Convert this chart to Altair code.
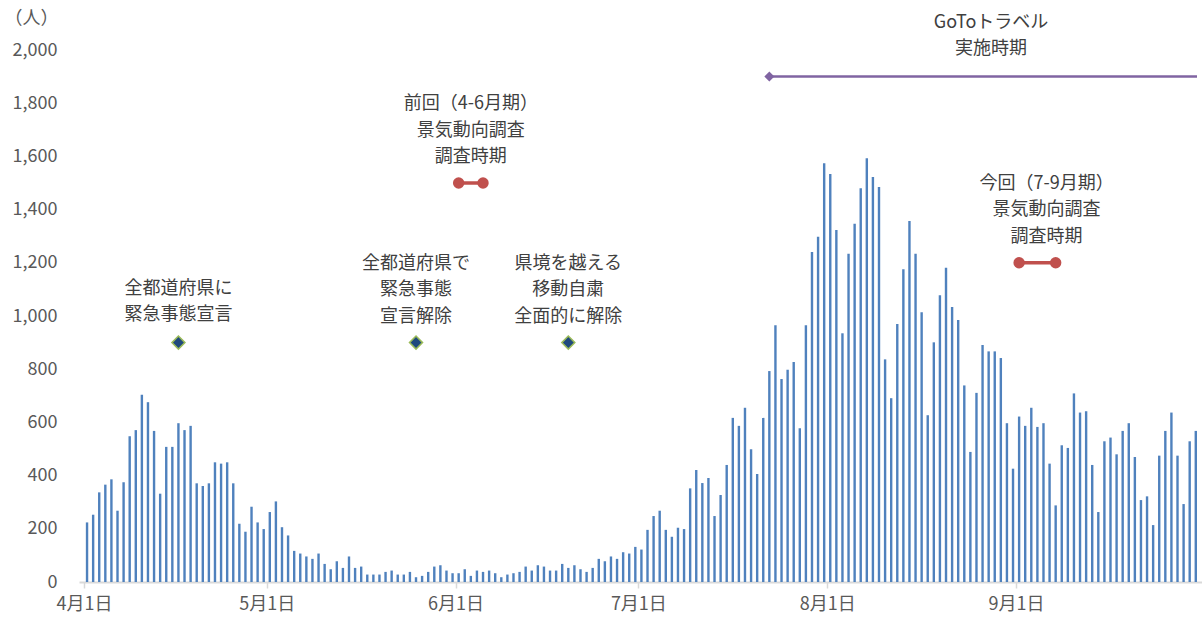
import altair as alt
import pandas as pd

# Daily new cases (Apr 1 - Sep 30)
april = [224, 253, 337, 366, 386, 268, 375, 548, 571, 704, 676, 568, 332, 508, 508,
         597, 571, 587, 371, 361, 371, 450, 445, 450, 371, 219, 189, 283, 224, 199]
may = [263, 303, 206, 175, 117, 107, 96, 87, 107, 68, 48, 78, 53, 96, 53, 58, 28, 28,
       28, 38, 43, 28, 28, 38, 18, 23, 38, 58, 63, 43, 33]
june = [33, 48, 23, 43, 38, 43, 33, 18, 28, 33, 38, 58, 43, 63, 58, 43, 43, 68, 53, 63,
        48, 38, 53, 87, 78, 96, 87, 112, 107, 132]
july = [122, 196, 248, 268, 196, 170, 204, 199, 352, 421, 372, 391, 248, 327, 440, 617,
        587, 655, 499, 406, 617, 793, 965, 763, 798, 827, 578, 965, 1241, 1298, 1574]
august = [1534, 1323, 935, 1234, 1347, 1480, 1593, 1523, 1485, 837, 691, 970, 1176, 1357,
          1234, 1014, 627, 901, 1078, 1181, 1034, 985, 739, 489, 711, 891, 867, 867, 842,
          597, 426]
september = [622, 587, 655, 583, 597, 445, 288, 514, 504, 709, 637, 642, 440, 263, 529,
             543, 480, 568, 597, 470, 308, 322, 214, 475, 568, 637, 475, 293, 529, 568]

cases = april + may + june + july + august + september
day_index = list(range(len(cases)))

# x-axis month labels and their boundaries (day index of the 1st minus half a day)
month_labels = ["4月1日", "5月1日", "6月1日", "7月1日", "8月1日", "9月1日"]
month_starts = [0, 30, 61, 91, 122, 153]
tick_positions = [s - 0.5 for s in month_starts]

y_ticks = list(range(0, 2001, 200))

# Event markers (diamonds)
event_days = [15, 54, 79]
event_level = [900, 900, 900]
event_texts = ["全都道府県に\n緊急事態宣言",
               "全都道府県で\n緊急事態\n宣言解除",
               "県境を越える\n移動自粛\n全面的に解除"]

# Survey periods (red dumbbells)
survey_start = [61, 153]
survey_end = [65, 159]
survey_level = [1500, 1200]
survey_text_day = [63, 157.5]
survey_texts = ["前回（4-6月期）\n景気動向調査\n調査時期",
                "今回（7-9月期）\n景気動向調査\n調査時期"]

# GoTo travel period
goto_start = [112]
goto_level = [1900]
goto_text_day = [148.4]
goto_texts = ["GoToトラベル\n実施時期"]

X_DOMAIN = [-0.5, 182.2]
Y_DOMAIN = [0, 2000]
FONT = "Noto Sans CJK JP"

bars_df = pd.DataFrame({"day": day_index, "v": cases})
events_df = pd.DataFrame({"day": event_days, "v": event_level})
survey_df = pd.DataFrame({"day": survey_start, "day2": survey_end, "v": survey_level})
survey_pts = pd.DataFrame({"day": survey_start + survey_end, "v": survey_level + survey_level})
goto_df = pd.DataFrame({"day": goto_start, "day2": [X_DOMAIN[1]] * len(goto_start), "v": goto_level})

all_text_days = event_days + survey_text_day + goto_text_day
all_text_levels = event_level + survey_level + goto_level
all_texts = event_texts + survey_texts + goto_texts
texts_df = pd.DataFrame({"day": all_text_days, "v": all_text_levels, "label": all_texts})
texts_df["nlines"] = texts_df["label"].str.count("\n") + 1

xscale = alt.Scale(domain=X_DOMAIN, nice=False, zero=False)
yscale = alt.Scale(domain=Y_DOMAIN, nice=False)

label_expr = "{}[indexof({}, datum.value)]".format(
    "[" + ",".join("'" + s + "'" for s in month_labels) + "]",
    "[" + ",".join(str(p) for p in tick_positions) + "]",
)

x_axis = alt.Axis(values=tick_positions, labelExpr=label_expr, title=None,
                  grid=False, domainColor="#d9d9d9", domainWidth=2,
                  tickColor="#d9d9d9", tickWidth=1.5, tickSize=6,
                  labelPadding=7, labelFlush=False, labelOverlap=False,
                  labelFont=FONT, labelFontSize=18, labelColor="#595959")
y_axis = alt.Axis(values=y_ticks, format=",.0f", grid=False, domain=False,
                  ticks=False, tickSize=0, labelPadding=22,
                  labelFont=FONT, labelFontSize=18, labelColor="#595959",
                  title="（人）", titleAngle=0, titleX=-48, titleY=-32,
                  titleAlign="center", titleBaseline="middle",
                  titleFont=FONT, titleFontSize=18, titleFontWeight="normal",
                  titleColor="#595959")

X = alt.X("day:Q", scale=xscale, axis=x_axis)
Y = alt.Y("v:Q", scale=yscale, axis=y_axis)

bars = alt.Chart(bars_df).mark_bar(size=2.4, color="#4f81bd").encode(x=X, y=Y)

events = alt.Chart(events_df).mark_point(
    shape="diamond", filled=True, fill="#1f497d", stroke="#9bbb59",
    strokeWidth=1.5, size=170, opacity=1,
).encode(x=X, y=Y)

survey_lines = alt.Chart(survey_df).mark_rule(color="#c0504d", strokeWidth=3.5).encode(
    x=X, x2="day2:Q", y=Y,
)

survey_dots = alt.Chart(survey_pts).mark_point(
    shape="circle", filled=True, color="#c0504d", size=130, opacity=1,
).encode(x=X, y=Y)

goto_line = alt.Chart(goto_df).mark_rule(color="#8064a2", strokeWidth=2.5).encode(
    x=X, x2="day2:Q", y=Y,
)

goto_dot = alt.Chart(goto_df).mark_point(
    shape="diamond", filled=True, color="#8064a2", size=100, opacity=1,
).encode(x=X, y=Y)

text_style = dict(font=FONT, fontSize=18, color="#404040", align="center",
                  baseline="bottom", lineBreak="\n", lineHeight=26.5)

texts2 = alt.Chart(texts_df).transform_filter("datum.nlines == 2").mark_text(
    dy=-45, **text_style
).encode(x=X, y=Y, text="label:N")

texts3 = alt.Chart(texts_df).transform_filter("datum.nlines == 3").mark_text(
    dy=-70, **text_style
).encode(x=X, y=Y, text="label:N")

chart = alt.layer(
    bars, survey_lines, survey_dots, goto_line, goto_dot, events, texts2, texts3
).properties(
    width=1123, height=532,
    padding={"left": 79, "top": 50, "right": 0, "bottom": 35},
    autosize=alt.AutoSizeParams(type="none"),
    background="white",
).configure_view(stroke=None)

chart.save("out.html", embed_options={"renderer": "svg", "actions": False})
